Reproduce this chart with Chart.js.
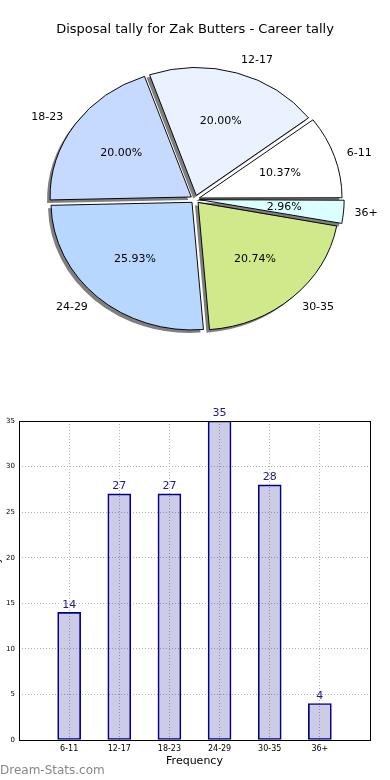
<!DOCTYPE html>
<html>
<head>
<meta charset="utf-8">
<script src="https://cdn.jsdelivr.net/npm/chart.js@4.4.0/dist/chart.umd.min.js"></script>
<style>
  body { margin: 0; background: #fff; width: 390px; height: 780px; position: relative; overflow: hidden; }
  #pie { position: absolute; left: 0; top: 0; }
  #bars { position: absolute; left: 0; top: 400px; }
  #mark { position: absolute; left: 0; top: 763px; font: 12px "DejaVu Sans"; color: #888; }
</style>
</head>
<body>
<canvas id="pie" width="390" height="400"></canvas>
<canvas id="bars" width="390" height="380"></canvas>
<div id="mark">Dream-Stats.com</div>
<script>
// data
const categories = ['6-11', '12-17', '18-23', '24-29', '30-35', '36+'];
const games = [14, 27, 27, 35, 28, 4];
const sliceColours = ['#ffffff', '#eaf1ff', '#c6d9ff', '#b7d7ff', '#d0ea8b', '#dbffff'];

const FONT = '"DejaVu Sans", sans-serif';
Chart.defaults.font.family = FONT;
Chart.defaults.color = '#000';

const total = games.reduce((a, b) => a + b, 0);
const squash = 0.905; // pie is drawn a bit flat, like the original

// matplotlib goes anticlockwise from 3 o'clock, chart.js clockwise -> reverse
const pieLabels = categories.slice().reverse();
const pieValues = games.slice().reverse();
const pieColours = sliceColours.slice().reverse();

const pieShape = {
  id: 'pieShape',
  // draw the slices ourselves: squashed, each with a grey drop shadow,
  // in the same order as the original (6-11 first, 36+ last)
  beforeDatasetDraw(chart) {
    const ctx = chart.ctx;
    const arcs = chart.getDatasetMeta(0).data;
    const c = arcs[0];
    ctx.save();
    ctx.translate(c.x, c.y);
    ctx.scale(1, squash);
    ctx.translate(-c.x, -c.y);
    for (let i = arcs.length - 1; i >= 0; i--) {
      const a = arcs[i];
      const opts = a.options;
      ctx.save();
      ctx.translate(-3, 3 / squash);
      a.options = Object.assign({}, opts, { backgroundColor: 'rgba(0,0,0,0.5)', borderWidth: 0 });
      a.draw(ctx);
      a.options = opts;
      ctx.restore();
      a.draw(ctx);
    }
    ctx.restore();
    return false;
  },
  afterDatasetsDraw(chart) {
    const ctx = chart.ctx;
    ctx.save();
    ctx.font = '11px ' + FONT;
    ctx.fillStyle = '#000';
    ctx.textBaseline = 'middle';
    chart.getDatasetMeta(0).data.forEach((a, i) => {
      const mid = (a.startAngle + a.endAngle) / 2;
      const r = a.outerRadius;
      const shift = (a.options.offset || 0) / 4 + 0.5;
      const cx = Math.cos(mid), cy = Math.sin(mid) * squash;
      ctx.textAlign = 'center';
      const pct = (pieValues[i] / total * 100).toFixed(2) + '%';
      ctx.fillText(pct, a.x + (0.6 * r + shift) * cx, a.y + (0.6 * r + shift) * cy);
      ctx.textAlign = cx > 0 ? 'left' : 'right';
      ctx.fillText(chart.data.labels[i], a.x + (1.1 * r + shift) * cx, a.y + (1.1 * r + shift) * cy);
    });
    ctx.restore();
  }
};

new Chart(document.getElementById('pie'), {
  type: 'pie',
  data: {
    labels: pieLabels,
    datasets: [{
      data: pieValues,
      backgroundColor: pieColours,
      borderColor: '#000',
      borderWidth: 1,
      offset: 18 // chart.js moves the slice by offset/4
    }]
  },
  options: {
    responsive: false,
    animation: false,
    rotation: 90,
    radius: 141,
    layout: { padding: { bottom: 39 } },
    plugins: {
      legend: { display: false },
      tooltip: { enabled: false },
      title: {
        display: true,
        text: 'Disposal tally for Zak Butters - Career tally',
        font: { size: 13, weight: 'normal' },
        color: '#000',
        padding: { top: 22, bottom: 0 }
      }
    }
  },
  plugins: [pieShape]
});

// bar chart, one empty slot each side like the original axis
const barLabels = [''].concat(categories, ['']);
const barValues = [null].concat(games, [null]);

const frameAndValues = {
  id: 'frameAndValues',
  afterDatasetsDraw(chart) {
    const ctx = chart.ctx;
    const { left, top, right, bottom } = chart.chartArea;
    ctx.save();
    ctx.strokeStyle = '#000';
    ctx.lineWidth = 1;
    ctx.strokeRect(Math.round(left) + 0.5, Math.round(top) + 0.5, Math.round(right - left), Math.round(bottom - top));
    ctx.fillStyle = '#1a1a8c';
    ctx.font = '11px ' + FONT;
    ctx.textAlign = 'center';
    ctx.textBaseline = 'bottom';
    chart.getDatasetMeta(0).data.forEach((bar, i) => {
      const v = barValues[i];
      if (v == null) return;
      ctx.fillText(v, bar.x, bar.y - 2);
    });
    ctx.restore();
  }
};

new Chart(document.getElementById('bars'), {
  type: 'bar',
  data: {
    labels: barLabels,
    datasets: [{
      data: barValues,
      backgroundColor: 'rgba(0,0,128,0.2)',
      borderColor: '#00008b',
      borderWidth: 1,
      borderSkipped: false,
      barThickness: 23
    }]
  },
  options: {
    responsive: false,
    animation: false,
    layout: { padding: { top: 21, right: 20, left: 0 } },
    plugins: { legend: { display: false }, tooltip: { enabled: false } },
    scales: {
      x: {
        offset: false,
        grid: { offset: false, color: '#b4b4b4', drawTicks: false },
        border: { display: false, dash: [1, 2] },
        ticks: { font: { size: 8 }, color: '#000', padding: 4, autoSkip: false, maxRotation: 0 },
        title: { display: true, text: 'Frequency', font: { size: 11 }, color: '#000', padding: { top: 0, bottom: 12 } },
        afterFit(s) { s.height = 40; }
      },
      y: {
        min: 0,
        max: 35,
        grid: { color: '#b4b4b4', drawTicks: false },
        border: { display: false, dash: [1, 2] },
        ticks: { stepSize: 5, font: { size: 7 }, color: '#000', padding: 4 },
        title: { display: true, text: 'Games Played', font: { size: 10 }, color: '#000', padding: -9 },
        afterFit(s) { s.width = 19; }
      }
    }
  },
  plugins: [frameAndValues]
});
</script>
</body>
</html>
